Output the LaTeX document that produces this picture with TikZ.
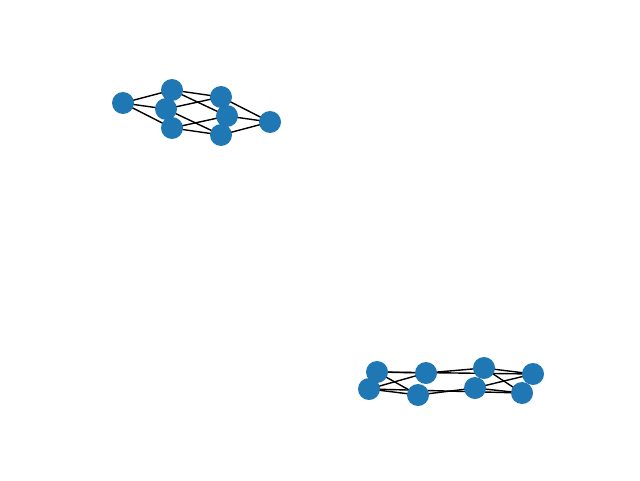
\documentclass[tikz,border=0pt]{standalone}
\usepackage{xcolor}
\usetikzlibrary{backgrounds}
\definecolor{nodeblue}{HTML}{1F77B4}

\begin{document}
\begin{tikzpicture}[-,line width=1pt,main node/.style={circle,fill=nodeblue,inner sep=0pt,minimum size=0.55cm}]
\tikzstyle{graph edge} = [draw,black,line width=1pt]

\useasboundingbox (0,0) rectangle (16,12);

% first cube
\node[main node] (a) at (3.075, 9.425) {};
\node[main node] (b) at (4.3, 9.75) {};
\node[main node] (c) at (4.15, 9.275) {};
\node[main node] (d) at (4.3, 8.8) {};
\node[main node] (e) at (5.525, 9.575) {};
\node[main node] (f) at (5.675, 9.1) {};
\node[main node] (g) at (5.525, 8.625) {};
\node[main node] (h) at (6.75, 8.95) {};

% second cube
\node[main node] (p) at (9.425, 2.7) {};
\node[main node] (q) at (9.225, 2.275) {};
\node[main node] (r) at (10.65, 2.675) {};
\node[main node] (s) at (10.45, 2.125) {};
\node[main node] (t) at (12.1, 2.8) {};
\node[main node] (u) at (11.875, 2.3) {};
\node[main node] (v) at (13.325, 2.65) {};
\node[main node] (w) at (13.05, 2.175) {};

\begin{pgfonlayer}{background}
\path[graph edge] (a.center) -- (b.center);
\path[graph edge] (a.center) -- (c.center);
\path[graph edge] (a.center) -- (d.center);
\path[graph edge] (b.center) -- (e.center);
\path[graph edge] (b.center) -- (f.center);
\path[graph edge] (c.center) -- (e.center);
\path[graph edge] (c.center) -- (g.center);
\path[graph edge] (d.center) -- (f.center);
\path[graph edge] (d.center) -- (g.center);
\path[graph edge] (e.center) -- (h.center);
\path[graph edge] (f.center) -- (h.center);
\path[graph edge] (g.center) -- (h.center);

\path[graph edge] (p.center) -- (r.center);
\path[graph edge] (p.center) -- (s.center);
\path[graph edge] (q.center) -- (r.center);
\path[graph edge] (q.center) -- (s.center);
\path[graph edge] (r.center) -- (t.center);
\path[graph edge] (s.center) -- (u.center);
\path[graph edge] (p.center) -- (v.center);
\path[graph edge] (q.center) -- (w.center);
\path[graph edge] (t.center) -- (v.center);
\path[graph edge] (t.center) -- (w.center);
\path[graph edge] (u.center) -- (v.center);
\path[graph edge] (u.center) -- (w.center);
\end{pgfonlayer}

\end{tikzpicture}
\end{document}
